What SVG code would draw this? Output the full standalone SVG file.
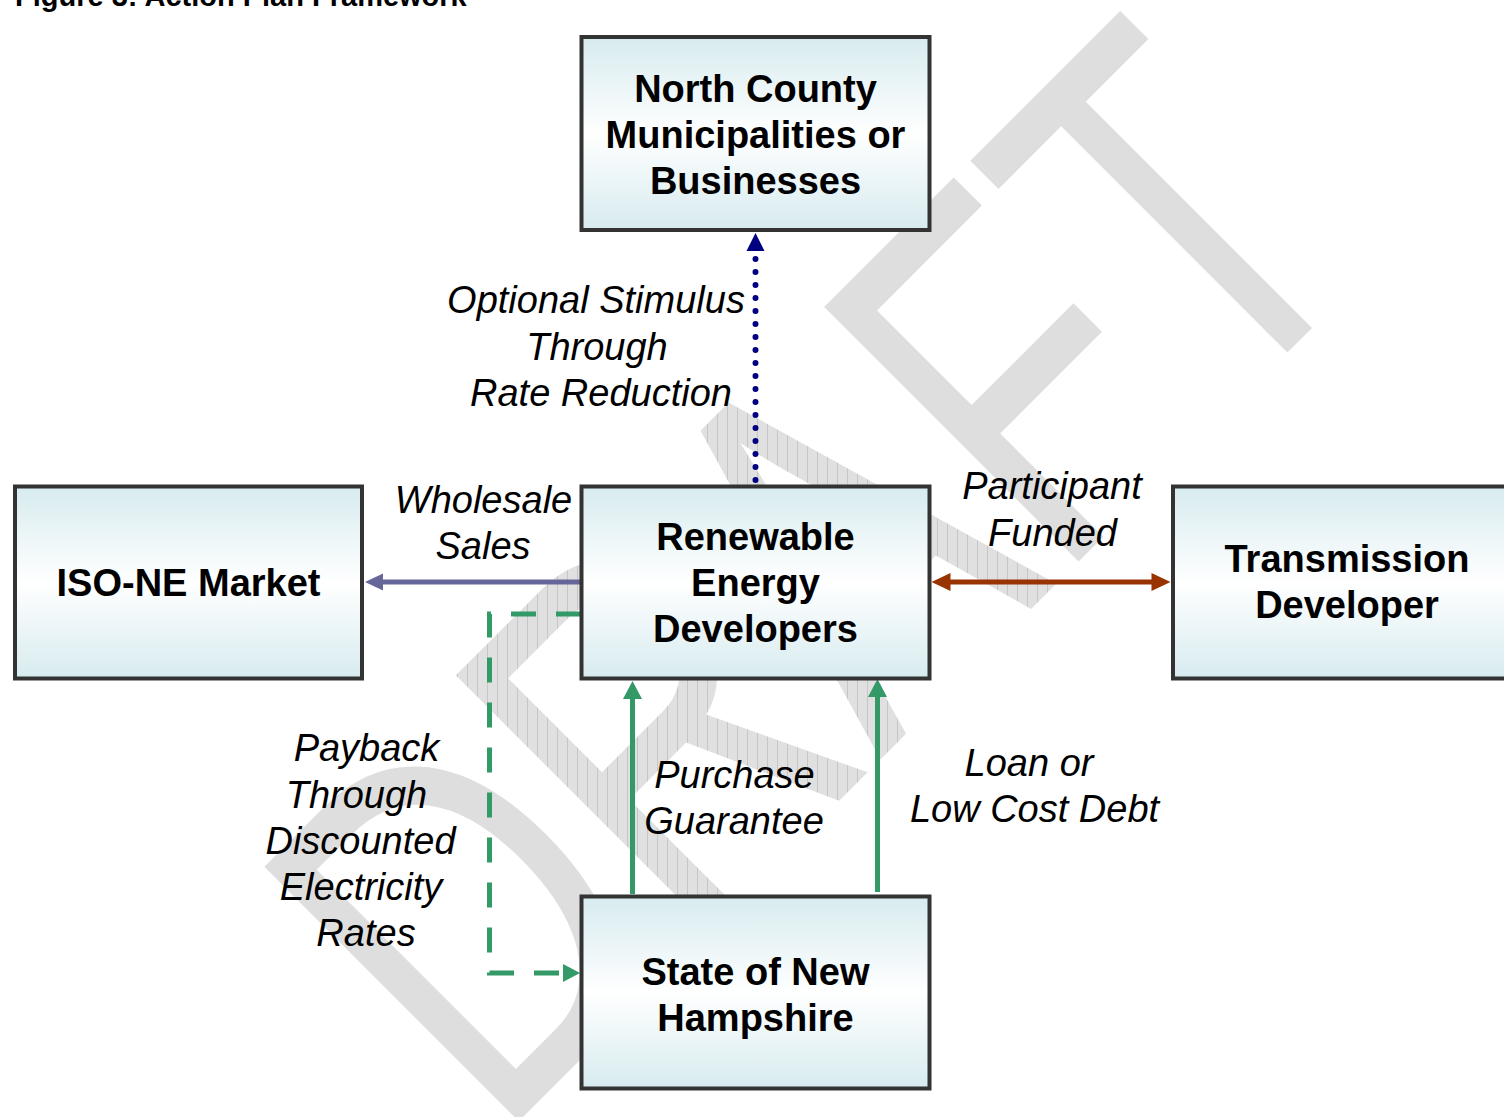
<svg xmlns="http://www.w3.org/2000/svg" width="1504" height="1117" viewBox="0 0 1504 1117">
<defs>
<linearGradient id="boxfill" x1="0" y1="0" x2="0" y2="1">
<stop offset="0" stop-color="#d7ebef"/>
<stop offset="0.5" stop-color="#ffffff"/>
<stop offset="1" stop-color="#d7ebef"/>
</linearGradient>
<pattern id="hatch" patternUnits="userSpaceOnUse" width="10" height="10" patternTransform="scale(1.3947 1) rotate(45)">
<rect width="10" height="10" fill="#e0e0e0"/>
<line x1="0.5" y1="0" x2="0.5" y2="10" stroke="#c6c6c6" stroke-width="1"/>
</pattern>
</defs>
<style>
.box{fill:url(#boxfill);stroke:#333333;stroke-width:4}
.bt{font-family:"Liberation Sans",Arial,sans-serif;font-weight:bold;font-size:38px;fill:#000;text-anchor:middle}
.lt{font-family:"Liberation Sans",Arial,sans-serif;font-style:italic;font-size:38px;fill:#000;text-anchor:middle}
.wm{font-family:"Liberation Sans",Arial,sans-serif;font-size:523px;fill:#dedede}
.green{stroke:#339966;stroke-width:5;fill:none}
</style>
<rect width="1504" height="1117" fill="#ffffff"/>
<text x="15" y="5.5" font-family="Liberation Sans, Arial, sans-serif" font-weight="bold" font-size="29">Figure 3: Action Plan Framework</text>
<g id="watermark">
<text class="wm" transform="translate(497,1143) rotate(-45) scale(0.717,1)">D<tspan fill="url(#hatch)">RA</tspan>FT</text>
</g>
<g id="connectors">
<g id="e-stimulus">
<line x1="755.5" y1="480" x2="755.5" y2="252" stroke="#000080" stroke-width="6" stroke-linecap="round" stroke-dasharray="0 13"/>
<polygon points="755.5,233 746.5,251 764.5,251" fill="#000080"/>
</g>
<g id="e-wholesale">
<line x1="581" y1="582" x2="381" y2="582" stroke="#666699" stroke-width="5"/>
<polygon points="365,582 383,573.5 383,590.5" fill="#666699"/>
</g>
<g id="e-participant">
<line x1="948" y1="582" x2="1154" y2="582" stroke="#993300" stroke-width="5"/>
<polygon points="931.5,582 950.5,573 950.5,591" fill="#993300"/>
<polygon points="1170.5,582 1151.5,573 1151.5,591" fill="#993300"/>
</g>
<g id="e-purchase">
<line class="green" x1="632.5" y1="894" x2="632.5" y2="697"/>
<polygon points="632.5,681 623,699 642,699" fill="#339966"/>
</g>
<g id="e-loan">
<line class="green" x1="877.5" y1="892" x2="877.5" y2="695"/>
<polygon points="877.5,679 868,697 887,697" fill="#339966"/>
</g>
<g id="e-payback">
<path class="green" d="M581,614 H489.5 V973 H563" stroke-width="5.5" stroke-dasharray="25 20"/>
<polygon points="580,973 563,964 563,982" fill="#339966"/>
</g>
</g>
<g id="labels">
<text class="lt"><tspan x="596" y="313">Optional Stimulus</tspan><tspan x="597" y="360">Through</tspan><tspan x="601" y="406">Rate Reduction</tspan></text>
<text class="lt"><tspan x="483.5" y="513">Wholesale</tspan><tspan x="483" y="559">Sales</tspan></text>
<text class="lt"><tspan x="1052" y="499">Participant</tspan><tspan x="1052.5" y="545.5">Funded</tspan></text>
<text class="lt"><tspan x="366.5" y="761">Payback</tspan><tspan x="356.5" y="808">Through</tspan><tspan x="360.5" y="853.5">Discounted</tspan><tspan x="361" y="899.5">Electricity</tspan><tspan x="366" y="945.5">Rates</tspan></text>
<text class="lt"><tspan x="734.5" y="787.5">Purchase</tspan><tspan x="734" y="833.5">Guarantee</tspan></text>
<text class="lt"><tspan x="1029" y="776">Loan or</tspan><tspan x="1034.5" y="822">Low Cost Debt</tspan></text>
</g>
<g id="n-north">
<rect class="box" x="581.5" y="37" width="348" height="193"/>
<text class="bt"><tspan x="755.5" y="102">North County</tspan><tspan x="755.5" y="148">Municipalities or</tspan><tspan x="755.5" y="194">Businesses</tspan></text>
</g>
<g id="n-iso">
<rect class="box" x="15" y="486.5" width="347" height="192"/>
<text class="bt" x="188.5" y="596">ISO-NE Market</text>
</g>
<g id="n-renewable">
<rect class="box" x="581.5" y="486.5" width="348" height="192"/>
<text class="bt"><tspan x="755.5" y="550">Renewable</tspan><tspan x="755.5" y="596">Energy</tspan><tspan x="755.5" y="642">Developers</tspan></text>
</g>
<g id="n-transmission">
<rect class="box" x="1173" y="486.5" width="348" height="192"/>
<text class="bt"><tspan x="1347" y="572">Transmission</tspan><tspan x="1347" y="618">Developer</tspan></text>
</g>
<g id="n-state">
<rect class="box" x="581.5" y="896.5" width="348" height="192"/>
<text class="bt"><tspan x="755.5" y="985">State of New</tspan><tspan x="755.5" y="1031">Hampshire</tspan></text>
</g>
</svg>
